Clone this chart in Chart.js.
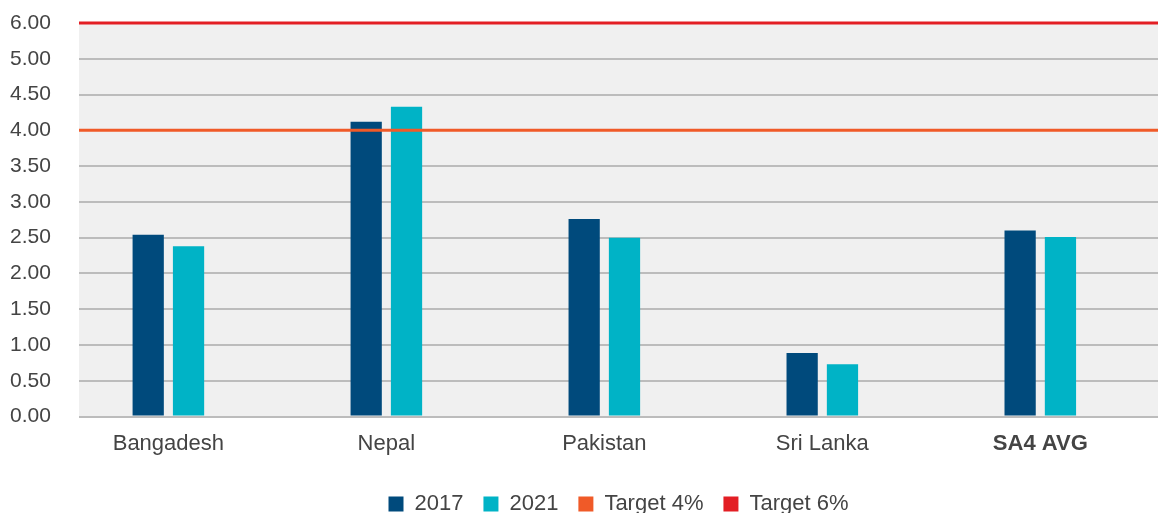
<!DOCTYPE html>
<html>
<head>
<meta charset="utf-8">
<script src="https://cdn.jsdelivr.net/npm/chart.js@4"></script>
<style>
  html, body { margin: 0; padding: 0; background: #fff; overflow: hidden; }
  #wrap { width: 1158px; height: 525px; position: relative; }
</style>
</head>
<body>
<div id="wrap"><canvas id="chart"></canvas></div>
<script>
// values
const categories = ['Bangadesh', 'Nepal', 'Pakistan', 'Sri Lanka', 'SA4 AVG'];
const values2017 = [2.54, 4.12, 2.76, 0.89, 2.60];
const values2021 = [2.38, 4.33, 2.50, 0.73, 2.51];
const targetLabels = ['Target 4%', 'Target 6%'];
const targetValues = [4, 6];
const yTicks = [0, 0.5, 1, 1.5, 2, 2.5, 3, 3.5, 4, 4.5, 5, 5.5];
const yTickLabels = ['0.00', '0.50', '1.00', '1.50', '2.00', '2.50', '3.00', '3.50', '4.00', '4.50', '5.00', '6.00'];

const yMax = 5.5; // top of axis is labelled 6.00 in the original
const textColor = '#444444';
const family = '"Liberation Sans", Arial, sans-serif';

const plotBg = {
    id: 'plotBg',
    beforeDraw(chart) {
        const { ctx, chartArea } = chart;
        ctx.save();
        ctx.fillStyle = '#f0f0f0';
        ctx.fillRect(chartArea.left, chartArea.top, chartArea.right - chartArea.left, chartArea.bottom - chartArea.top);
        ctx.restore();
    },
    // legend sits centred under the plot area, not the whole canvas
    afterLayout(chart) {
        const l = chart.legend;
        const shift = ((chart.chartArea.left + chart.chartArea.right) - (l.left + l.right)) / 2;
        l.left += shift;
        l.right += shift;
    }
};

// bars sit on a linear x axis (category index), so the target lines can run edge to edge
function barSeries(label, values, color) {
    return {
        label: label,
        data: values.map((v, i) => ({ x: i, y: v })),
        backgroundColor: color,
        categoryPercentage: 0.37,
        barPercentage: 0.775,
        order: 2
    };
}

const xMin = -0.41, xMax = 4.54;

function targetLine(label, value, color) {
    let v = Math.min(value, yMax);
    return {
        type: 'line',
        label: label,
        data: [{ x: xMin, y: v }, { x: xMax, y: v }],
        borderColor: color,
        backgroundColor: color,
        borderWidth: 3,
        pointRadius: 0,
        clip: false,
        order: 1
    };
}

new Chart(document.getElementById('chart'), {
    type: 'bar',
    data: {
        datasets: [
            barSeries('2017', values2017, '#004a7c'),
            barSeries('2021', values2021, '#00b3c6'),
            targetLine(targetLabels[0], targetValues[0], '#f05a28'),
            targetLine(targetLabels[1], targetValues[1], '#e31e24')
        ]
    },
    plugins: [plotBg],
    options: {
        responsive: true,
        maintainAspectRatio: false,
        animation: false,
        layout: { padding: { left: 10, right: 0, top: 23, bottom: 0 } },
        scales: {
            x: {
                type: 'linear',
                offset: false,
                min: xMin,
                max: xMax,
                afterBuildTicks(axis) {
                    axis.ticks = categories.map((c, i) => ({ value: i }));
                },
                grid: { display: false },
                border: { display: false },
                ticks: {
                    color: textColor,
                    font: (c) => ({ family: family, size: 22, weight: c.index === 4 ? 'bold' : 'normal' }),
                    padding: 6,
                    maxRotation: 0,
                    callback: (v, i) => categories[i]
                },
                afterFit(s) { s.height += 10; }
            },
            y: {
                min: 0,
                max: yMax,
                afterBuildTicks(axis) {
                    axis.ticks = yTicks.map(v => ({ value: v }));
                },
                afterFit(s) { s.width = 69; },
                grid: { color: '#bcbcbc', lineWidth: 2, drawTicks: false },
                border: { display: false },
                ticks: {
                    color: textColor,
                    font: { family: family, size: 21 },
                    padding: 0,
                    crossAlign: 'far',
                    callback: (v, i) => yTickLabels[i]
                }
            }
        },
        plugins: {
            legend: {
                position: 'bottom',
                labels: {
                    color: textColor,
                    font: { family: family, size: 22 },
                    boxWidth: 15,
                    boxHeight: 15,
                    padding: 20,
                    generateLabels(chart) {
                        return chart.data.datasets.map((ds, i) => ({
                            text: ds.label,
                            fillStyle: ds.backgroundColor,
                            strokeStyle: ds.backgroundColor,
                            lineWidth: 0,
                            fontColor: textColor,
                            datasetIndex: i
                        }));
                    }
                }
            },
            tooltip: { enabled: false }
        }
    }
});
</script>
</body>
</html>
